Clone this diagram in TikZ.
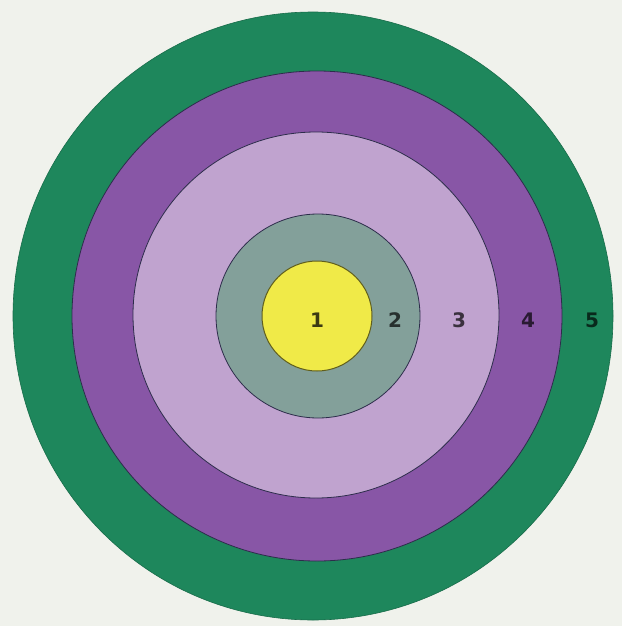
\documentclass[tikz,border=0pt]{standalone}
\usepackage{fontspec}
\setmainfont{DejaVu Sans}
\definecolor{bg}{RGB}{240,242,236}
\definecolor{ring5}{RGB}{30,135,92}
\definecolor{ring4}{RGB}{136,86,166}
\definecolor{ring3}{RGB}{192,163,207}
\definecolor{ring2}{RGB}{131,160,154}
\definecolor{ring1}{RGB}{240,234,72}
\definecolor{edge}{RGB}{45,45,75}
\tikzset{
  ring/.style={draw=edge, line width=0.8pt},
  lab/.style={font=\fontsize{20}{22}\selectfont\bfseries, inner sep=0pt}
}
\begin{document}
\begin{tikzpicture}[x=1pt,y=-1pt]
\fill[bg] (0,0) rectangle (622,626);
\useasboundingbox (0,0) rectangle (622,626);
\filldraw[draw=ring5!80!black, fill=ring5, line width=0.6pt] (313,316) ellipse [x radius=300, y radius=304];
\filldraw[ring, fill=ring4] (317,316) circle [radius=245];
\filldraw[ring, fill=ring3] (316,315) circle [radius=183];
\filldraw[ring, fill=ring2] (318,316) circle [radius=102];
\filldraw[draw=black!60!ring1, line width=1pt, fill=ring1] (317,316) circle [radius=55];
\node[lab, text=black!75!ring1] (l1) at (317,320) {1};
\node[lab, text=black!70!ring2] (l2) at (395,320) {2};
\node[lab, text=black!70!ring3] (l3) at (459,320) {3};
\node[lab, text=black!70!ring4] (l4) at (528,320) {4};
\node[lab, text=black!70!ring5] (l5) at (592,320) {5};
\end{tikzpicture}
\end{document}
